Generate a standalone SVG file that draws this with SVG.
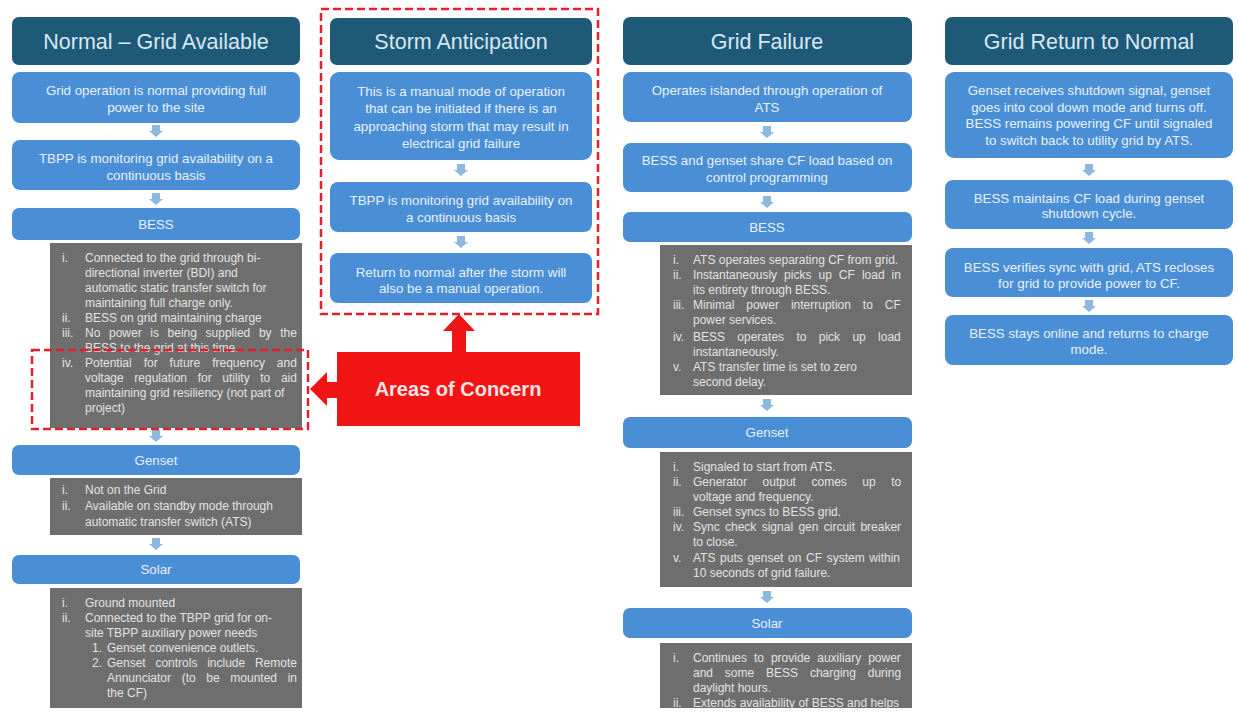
<svg xmlns="http://www.w3.org/2000/svg" width="1238" height="713" viewBox="0 0 1238 713">
<style>
.hdr{fill:#1e5a78}
.box{fill:#4a8fd6}
.gray{fill:#6e6e6e}
.ht{font-family:"Liberation Sans",Arial,sans-serif;font-size:21.5px;fill:#d6e8f1;text-anchor:middle}
.bt{font-family:"Liberation Sans",Arial,sans-serif;font-size:13.3px;fill:#e9f1fa;text-anchor:middle}
.gt{font-family:"Liberation Sans",Arial,sans-serif;font-size:12px;fill:#e2e2e2}
.dash{fill:none;stroke:#e3202b;stroke-width:2.5;stroke-dasharray:8 4}
.arr{fill:#8db8e0}
.red{fill:#f01414}
.aoc{font-family:"Liberation Sans",Arial,sans-serif;font-size:20px;font-weight:bold;fill:#fbe3e3;text-anchor:middle}
</style>
<defs>
<path id="da" d="M-4,-6 H4 V0 H7 L0,6 L-7,0 H-4 Z"/>
</defs>
<rect width="1238" height="713" fill="#ffffff"/>

<!-- Column 1 -->
<g id="col1-header"><rect class="hdr" x="12" y="17" width="288" height="48" rx="7"/><text class="ht" x="156" y="49">Normal – Grid Available</text></g>
<g id="col1-b1"><rect class="box" x="12" y="72" width="288" height="51" rx="8"/><text class="bt" x="156" y="95">Grid operation is normal providing full</text><text class="bt" x="156" y="112">power to the site</text></g>
<g id="col1-b2"><rect class="box" x="12" y="140" width="288" height="50" rx="8"/><text class="bt" x="156" y="163">TBPP is monitoring grid availability on a</text><text class="bt" x="156" y="180">continuous basis</text></g>
<g id="col1-bess"><rect class="box" x="12" y="208" width="288" height="32" rx="7"/><text class="bt" x="156" y="229">BESS</text></g>
<g id="col1-bess-list"><rect class="gray" x="50" y="243" width="252" height="185"/>
<text class="gt" x="62" y="262">i.</text><text class="gt" x="85" y="262">Connected to the grid through bi-</text>
<text class="gt" x="85" y="277">directional inverter (BDI) and</text>
<text class="gt" x="85" y="292">automatic static transfer switch for</text>
<text class="gt" x="85" y="307">maintaining full charge only.</text>
<text class="gt" x="62" y="322">ii.</text><text class="gt" x="85" y="322">BESS on grid maintaining charge</text>
<text class="gt" x="62" y="337">iii.</text><text class="gt" x="85" y="337" style="word-spacing:5.3px">No power is being supplied by the</text>
<text class="gt" x="85" y="352">BESS to the grid at this time.</text>
<text class="gt" x="62" y="367">iv.</text><text class="gt" x="85" y="367" style="word-spacing:8.6px">Potential for future frequency and</text>
<text class="gt" x="85" y="382" style="word-spacing:7.3px">voltage regulation for utility to aid</text>
<text class="gt" x="85" y="397">maintaining grid resiliency (not part of</text>
<text class="gt" x="85" y="412">project)</text>
</g>
<g id="col1-genset"><rect class="box" x="12" y="445" width="288" height="30" rx="7"/><text class="bt" x="156" y="465">Genset</text></g>
<g id="col1-genset-list"><rect class="gray" x="50" y="478" width="252" height="57"/>
<text class="gt" x="62" y="494">i.</text><text class="gt" x="85" y="494">Not on the Grid</text>
<text class="gt" x="62" y="510">ii.</text><text class="gt" x="85" y="510">Available on standby mode through</text>
<text class="gt" x="85" y="526">automatic transfer switch (ATS)</text>
</g>
<g id="col1-solar"><rect class="box" x="12" y="555" width="288" height="29" rx="7"/><text class="bt" x="156" y="574">Solar</text></g>
<g id="col1-solar-list"><rect class="gray" x="50" y="588" width="252" height="120"/>
<text class="gt" x="62" y="607">i.</text><text class="gt" x="85" y="607">Ground mounted</text>
<text class="gt" x="62" y="622">ii.</text><text class="gt" x="85" y="622">Connected to the TBPP grid for on-</text>
<text class="gt" x="85" y="637">site TBPP auxiliary power needs</text>
<text class="gt" x="92" y="652">1.</text><text class="gt" x="107" y="652">Genset convenience outlets.</text>
<text class="gt" x="92" y="667">2.</text><text class="gt" x="107" y="667" style="word-spacing:6.4px">Genset controls include Remote</text>
<text class="gt" x="107" y="682" style="word-spacing:7.3px">Annunciator (to be mounted in</text>
<text class="gt" x="107" y="697">the CF)</text>
</g>

<!-- Column 2 -->
<g id="col2-header"><rect class="hdr" x="330" y="18" width="262" height="47" rx="7"/><text class="ht" x="461" y="49">Storm Anticipation</text></g>
<g id="col2-b1"><rect class="box" x="330" y="72" width="262" height="88" rx="9"/>
<text class="bt" x="461" y="96">This is a manual mode of operation</text>
<text class="bt" x="461" y="113">that can be initiated if there is an</text>
<text class="bt" x="461" y="131">approaching storm that may result in</text>
<text class="bt" x="461" y="148">electrical grid failure</text></g>
<g id="col2-b2"><rect class="box" x="330" y="182" width="262" height="50" rx="8"/><text class="bt" x="461" y="205">TBPP is monitoring grid availability on</text><text class="bt" x="461" y="222">a continuous basis</text></g>
<g id="col2-b3"><rect class="box" x="330" y="253" width="262" height="50" rx="8"/><text class="bt" x="461" y="277">Return to normal after the storm will</text><text class="bt" x="461" y="293">also be a manual operation.</text></g>

<!-- Column 3 -->
<g id="col3-header"><rect class="hdr" x="623" y="17" width="289" height="48" rx="7"/><text class="ht" x="767" y="49">Grid Failure</text></g>
<g id="col3-b1"><rect class="box" x="623" y="72" width="289" height="50" rx="8"/><text class="bt" x="767" y="95">Operates islanded through operation of</text><text class="bt" x="767" y="112">ATS</text></g>
<g id="col3-b2"><rect class="box" x="623" y="143" width="289" height="49" rx="8"/><text class="bt" x="767" y="165">BESS and genset share CF load based on</text><text class="bt" x="767" y="182">control programming</text></g>
<g id="col3-bess"><rect class="box" x="623" y="212" width="289" height="30" rx="7"/><text class="bt" x="767" y="232">BESS</text></g>
<g id="col3-bess-list"><rect class="gray" x="660" y="245" width="252" height="150"/>
<text class="gt" x="673" y="264">i.</text><text class="gt" x="693" y="264">ATS operates separating CF from grid.</text>
<text class="gt" x="673" y="279">ii.</text><text class="gt" x="693" y="279" style="word-spacing:3.7px">Instantaneously picks up CF load in</text>
<text class="gt" x="693" y="294">its entirety through BESS.</text>
<text class="gt" x="673" y="309">iii.</text><text class="gt" x="693" y="309" style="word-spacing:8.6px">Minimal power interruption to CF</text>
<text class="gt" x="693" y="324">power services.</text>
<text class="gt" x="673" y="341">iv.</text><text class="gt" x="693" y="341" style="word-spacing:9px">BESS operates to pick up load</text>
<text class="gt" x="693" y="356">instantaneously.</text>
<text class="gt" x="673" y="371">v.</text><text class="gt" x="693" y="371">ATS transfer time is set to zero</text>
<text class="gt" x="693" y="386">second delay.</text>
</g>
<g id="col3-genset"><rect class="box" x="623" y="417" width="289" height="31" rx="7"/><text class="bt" x="767" y="437">Genset</text></g>
<g id="col3-genset-list"><rect class="gray" x="660" y="452" width="252" height="135"/>
<text class="gt" x="673" y="471">i.</text><text class="gt" x="693" y="471">Signaled to start from ATS.</text>
<text class="gt" x="673" y="486">ii.</text><text class="gt" x="693" y="486" style="word-spacing:12.2px">Generator output comes up to</text>
<text class="gt" x="693" y="501">voltage and frequency.</text>
<text class="gt" x="673" y="516">iii.</text><text class="gt" x="693" y="516">Genset syncs to BESS grid.</text>
<text class="gt" x="673" y="531">iv.</text><text class="gt" x="693" y="531" style="word-spacing:2px">Sync check signal gen circuit breaker</text>
<text class="gt" x="693" y="546">to close.</text>
<text class="gt" x="673" y="562">v.</text><text class="gt" x="693" y="562" style="word-spacing:1.3px">ATS puts genset on CF system within</text>
<text class="gt" x="693" y="577">10 seconds of grid failure.</text>
</g>
<g id="col3-solar"><rect class="box" x="623" y="608" width="289" height="30" rx="7"/><text class="bt" x="767" y="628">Solar</text></g>
<g id="col3-solar-list"><rect class="gray" x="660" y="643" width="252" height="65"/>
<text class="gt" x="673" y="662">i.</text><text class="gt" x="693" y="662" style="word-spacing:3.6px">Continues to provide auxiliary power</text>
<text class="gt" x="693" y="677" style="word-spacing:8.5px">and some BESS charging during</text>
<text class="gt" x="693" y="692">daylight hours.</text>
<text class="gt" x="673" y="707">ii.</text><text class="gt" x="693" y="707">Extends availability of BESS and helps</text>
</g>

<!-- Column 4 -->
<g id="col4-header"><rect class="hdr" x="945" y="17" width="288" height="48" rx="7"/><text class="ht" x="1089" y="49">Grid Return to Normal</text></g>
<g id="col4-b1"><rect class="box" x="945" y="72" width="288" height="86" rx="9"/>
<text class="bt" x="1089" y="95">Genset receives shutdown signal, genset</text>
<text class="bt" x="1089" y="112">goes into cool down mode and turns off.</text>
<text class="bt" x="1089" y="128">BESS remains powering CF until signaled</text>
<text class="bt" x="1089" y="145">to switch back to utility grid by ATS.</text></g>
<g id="col4-b2"><rect class="box" x="945" y="180" width="288" height="49" rx="8"/><text class="bt" x="1089" y="203">BESS maintains CF load during genset</text><text class="bt" x="1089" y="218">shutdown cycle.</text></g>
<g id="col4-b3"><rect class="box" x="945" y="248" width="288" height="49" rx="8"/><text class="bt" x="1089" y="272">BESS verifies sync with grid, ATS recloses</text><text class="bt" x="1089" y="288">for grid to provide power to CF.</text></g>
<g id="col4-b4"><rect class="box" x="945" y="315" width="288" height="50" rx="8"/><text class="bt" x="1089" y="338">BESS stays online and returns to charge</text><text class="bt" x="1089" y="354">mode.</text></g>

<!-- Connectors -->
<g id="connectors">
<use href="#da" class="arr" x="156" y="131"/>
<use href="#da" class="arr" x="156" y="199"/>
<use href="#da" class="arr" x="156" y="436"/>
<use href="#da" class="arr" x="156" y="544"/>
<use href="#da" class="arr" x="461" y="170"/>
<use href="#da" class="arr" x="461" y="242"/>
<use href="#da" class="arr" x="767" y="132"/>
<use href="#da" class="arr" x="767" y="202"/>
<use href="#da" class="arr" x="767" y="405"/>
<use href="#da" class="arr" x="767" y="597"/>
<use href="#da" class="arr" x="1089" y="170"/>
<use href="#da" class="arr" x="1089" y="238"/>
<use href="#da" class="arr" x="1089" y="306"/>
</g>

<!-- Areas of concern -->
<g id="concern-col2"><rect class="dash" x="321" y="9" width="277" height="305"/></g>
<g id="concern-col1"><rect class="dash" x="32" y="350" width="276" height="79"/></g>
<g id="areas-of-concern">
<path class="red" d="M452,352 V331 H443 L459,314 L475,331 H466 V352 Z"/>
<path class="red" d="M337,382 H327 V372 L310,389 L327,406 V398 H337 Z"/>
<rect class="red" x="337" y="352" width="243" height="74"/>
<text class="aoc" x="458" y="396">Areas of Concern</text>
</g>
</svg>
